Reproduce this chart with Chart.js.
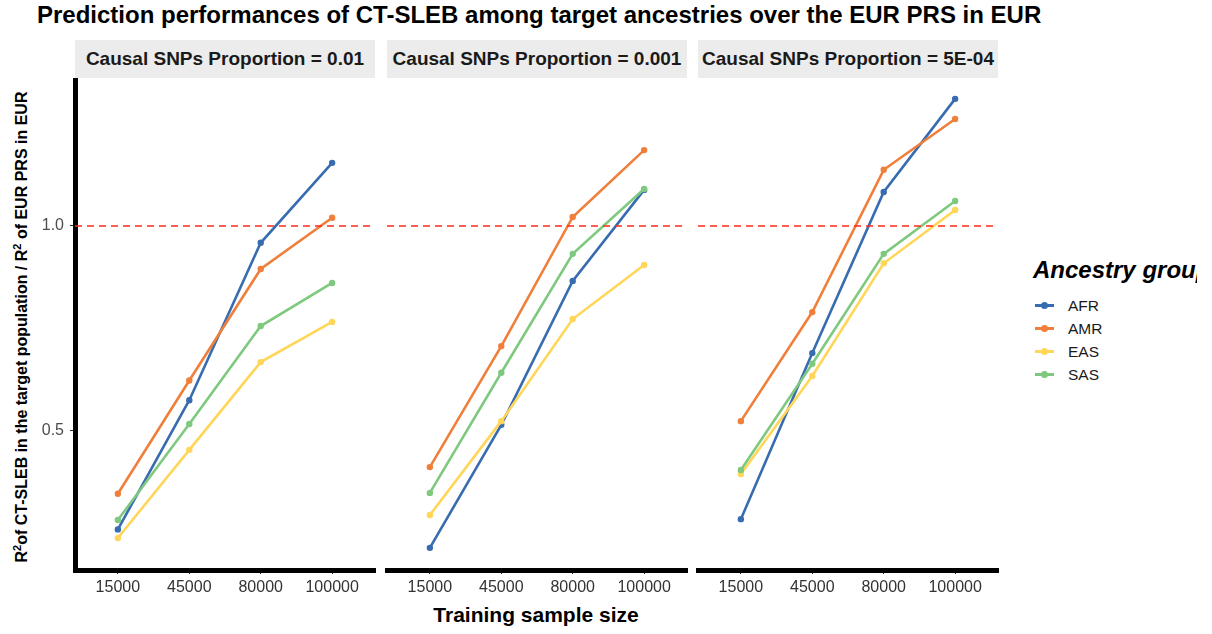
<!DOCTYPE html>
<html>
<head>
<meta charset="utf-8">
<script src="https://cdn.jsdelivr.net/npm/chart.js@4/dist/chart.umd.min.js"></script>
<style>
  html, body { margin: 0; padding: 0; background: #fff; }
  body { font-family: "Liberation Sans", Arial, Helvetica, sans-serif; }
  #wrap { position: relative; width: 1197px; height: 634px; overflow: hidden; background: #fff; }
  #title { position: absolute; left: 37px; top: 1px; font-size: 24px; font-weight: bold; color: #000; white-space: nowrap; }
  .strip { position: absolute; top: 40px; height: 38px; background: #ececec; font-size: 19px; font-weight: bold;
           color: #1a1a1a; display: flex; align-items: center; justify-content: center; white-space: nowrap; }
  .panel { position: absolute; top: 60px; }
  #ytitle { position: absolute; left: 21px; top: 327px; transform: translate(-50%, -50%) rotate(-90deg);
            font-size: 16px; font-weight: bold; white-space: nowrap; color: #000; }
  #ytitle sup { font-size: 11px; }
  #xtitle { position: absolute; left: 536px; top: 603px; transform: translateX(-50%); font-size: 21px; font-weight: bold; white-space: nowrap; }
  #legend { position: absolute; left: 1033px; top: 256px; }
  #legend .lt { font-size: 24px; font-weight: bold; font-style: italic; white-space: nowrap; margin-bottom: 10px; }
  #legend .item { display: flex; align-items: center; height: 23px; font-size: 15.5px; color: #1a1a1a; }
  #legend .key { position: relative; width: 19px; height: 3px; margin-left: 2px; margin-right: 14px; }
  #legend .key i { position: absolute; left: 6px; top: -2px; width: 7px; height: 7px; border-radius: 50%; }
</style>
</head>
<body>
<div id="wrap">
  <div id="title">Prediction performances of CT-SLEB among target ancestries over the EUR PRS in EUR</div>
  <div id="ytitle">R<sup>2</sup>of CT-SLEB in the target population / R<sup>2</sup> of EUR PRS in EUR</div>
  <div id="xtitle">Training sample size</div>
  <div id="legend"></div>
</div>
<script>
// facet labels and x categories
const panelTitles = ['Causal SNPs Proportion = 0.01', 'Causal SNPs Proportion = 0.001', 'Causal SNPs Proportion = 5E-04'];
const sampleSizes = ['15000', '45000', '80000', '100000'];
const groups = ['AFR', 'AMR', 'EAS', 'SAS'];
const groupColors = ['#386CB0', '#EF7F3B', '#FFD658', '#7FC97F'];

// R2 ratio per ancestry, one row per facet
const afr = [[0.260, 0.575, 0.959, 1.154], [0.215, 0.515, 0.866, 1.088], [0.285, 0.690, 1.083, 1.310]];
const amr = [[0.347, 0.623, 0.895, 1.020], [0.412, 0.707, 1.022, 1.185], [0.524, 0.790, 1.137, 1.261]];
const eas = [[0.239, 0.454, 0.668, 0.766], [0.295, 0.524, 0.773, 0.905], [0.395, 0.634, 0.909, 1.039]];
const sas = [[0.283, 0.517, 0.756, 0.861], [0.349, 0.642, 0.932, 1.090], [0.405, 0.664, 0.932, 1.061]];
const seriesByGroup = [afr, amr, eas, sas];

const yTicks = [0.5, 1.0];
const refLine = 1.0;

// layout of the three facets
const plotLefts = [75, 387, 698];
const plotWidth = 300;
const axisGap = 60;

const wrap = document.getElementById('wrap');
const FONT = '"Liberation Sans", Arial, Helvetica, sans-serif';

// legend
const legend = document.getElementById('legend');
legend.innerHTML = '<div class="lt">Ancestry group</div>' + groups.map((g, i) =>
  '<div class="item"><span class="key" style="background:' + groupColors[i] + '"><i style="background:' +
  groupColors[i] + '"></i></span>' + g + '</div>').join('');

panelTitles.forEach((label, p) => {
  const strip = document.createElement('div');
  strip.className = 'strip';
  strip.style.left = plotLefts[p] + 'px';
  strip.style.width = plotWidth + 'px';
  strip.textContent = label;
  wrap.appendChild(strip);

  const canvas = document.createElement('canvas');
  canvas.className = 'panel';
  canvas.width = axisGap + plotWidth + 6;
  canvas.height = 548;
  canvas.style.left = (plotLefts[p] - axisGap) + 'px';
  wrap.appendChild(canvas);

  const datasets = groups.map((g, i) => ({
    label: g,
    data: seriesByGroup[i][p].map((v, k) => ({ x: k + 1, y: v })),
    borderColor: groupColors[i],
    backgroundColor: groupColors[i],
    borderWidth: 2.6,
    pointRadius: 3.2,
    pointBorderWidth: 0,
    tension: 0,
    order: groups.length - i
  }));
  // dashed reference at ratio 1
  datasets.push({
    label: 'ref',
    data: [{ x: 0.4, y: refLine }, { x: 4.6, y: refLine }],
    borderColor: '#FF2A1A',
    borderWidth: 1.5,
    borderDash: [7, 5],
    pointRadius: 0,
    order: 0
  });

  const first = p === 0;
  new Chart(canvas, {
    type: 'line',
    data: { datasets: datasets },
    options: {
      responsive: false,
      animation: false,
      layout: { padding: { top: 20, bottom: 8, left: 0, right: 6 } },
      plugins: { legend: { display: false }, tooltip: { enabled: false } },
      scales: {
        x: {
          type: 'linear',
          min: 0.4,
          max: 4.6,
          afterBuildTicks: (s) => { s.ticks = sampleSizes.map((_, k) => ({ value: k + 1 })); },
          afterFit: (s) => { s.height = 30; },
          grid: { display: true, drawOnChartArea: false, tickLength: 4, color: '#333' },
          border: { display: true, color: '#000', width: 5 },
          ticks: {
            color: '#333',
            padding: 4,
            maxRotation: 0,
            font: { family: FONT, size: 16 },
            callback: (v) => sampleSizes[Math.round(v) - 1]
          }
        },
        y: {
          min: 0.161,
          max: 1.356,
          afterBuildTicks: (s) => { s.ticks = yTicks.map(v => ({ value: v })); },
          afterFit: (s) => { s.width = axisGap; },
          grid: { display: first, drawOnChartArea: false, tickLength: 5, color: '#333' },
          border: { display: first, color: '#000', width: 5 },
          ticks: {
            display: first,
            color: '#4d4d4d',
            padding: 6,
            font: { family: FONT, size: 16 },
            callback: (v) => v.toFixed(1)
          }
        }
      }
    }
  });
});
</script>
</body>
</html>
